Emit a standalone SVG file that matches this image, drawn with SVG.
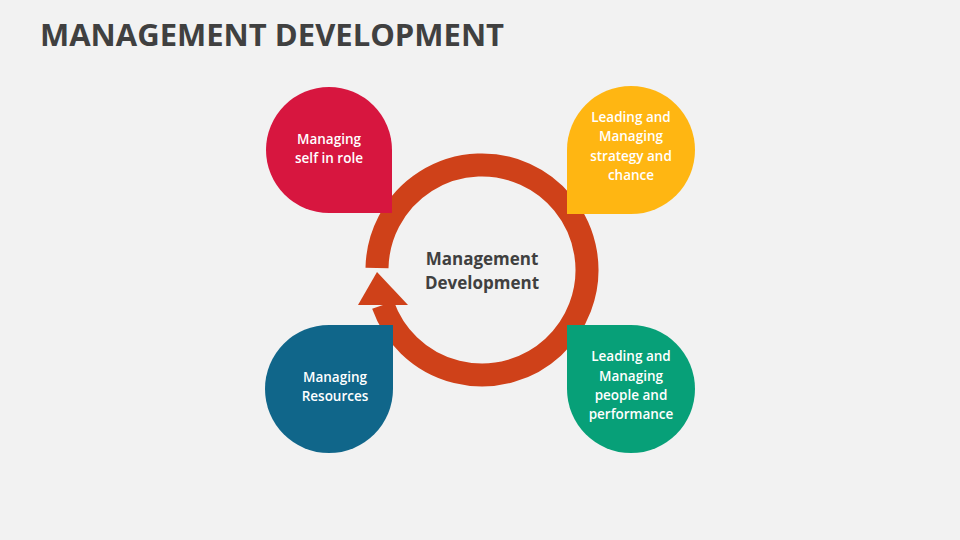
<svg xmlns="http://www.w3.org/2000/svg" width="960" height="540" viewBox="0 0 960 540">
<style>
.title{font-family:"Open Sans","Liberation Sans",sans-serif;font-weight:700;font-size:31px;fill:#404040}
.center{font-family:"Open Sans","Liberation Sans",sans-serif;font-weight:700;font-size:17px;fill:#404040;text-anchor:middle}
.lbl{font-family:"Open Sans","Liberation Sans",sans-serif;font-weight:600;font-size:13.5px;fill:#ffffff;text-anchor:middle}
</style>
<rect width="960" height="540" fill="#F2F2F2"/>
<text class="title" x="40" y="46">MANAGEMENT DEVELOPMENT</text>
<g id="connectors">
<path d="M 377 268 A 105 105 0 1 1 383 305" fill="none" stroke="#CF4119" stroke-width="23"/>
<polygon points="358,305 408,305 377,272" fill="#CF4119"/>
</g>
<g id="center-node">
<text class="center" x="482" y="265">Management</text>
<text class="center" x="482" y="289">Development</text>
</g>
<g id="node-self">
<path d="M 266 150 A 63 63 0 0 1 392 150 L 392 213 L 329 213 A 63 63 0 0 1 266 150 Z" fill="#D7163F"/>
<text class="lbl" x="329" y="144">Managing</text>
<text class="lbl" x="329" y="163">self in role</text>
</g>
<g id="node-strategy">
<path d="M 567 150 A 64 64 0 0 1 695 150 A 64 64 0 0 1 631 214 L 567 214 Z" fill="#FFB612"/>
<text class="lbl" x="631" y="122">Leading and</text>
<text class="lbl" x="631" y="141">Managing</text>
<text class="lbl" x="631" y="161">strategy and</text>
<text class="lbl" x="631" y="180">chance</text>
</g>
<g id="node-resources">
<path d="M 329 325 L 393 325 L 393 389 A 64 64 0 0 1 265 389 A 64 64 0 0 1 329 325 Z" fill="#10668A"/>
<text class="lbl" x="335" y="382">Managing</text>
<text class="lbl" x="335" y="401">Resources</text>
</g>
<g id="node-people">
<path d="M 567 325 L 631 325 A 64 64 0 0 1 631 453 A 64 64 0 0 1 567 389 Z" fill="#07A078"/>
<text class="lbl" x="631" y="361">Leading and</text>
<text class="lbl" x="631" y="381">Managing</text>
<text class="lbl" x="631" y="400">people and</text>
<text class="lbl" x="631" y="419">performance</text>
</g>
</svg>
